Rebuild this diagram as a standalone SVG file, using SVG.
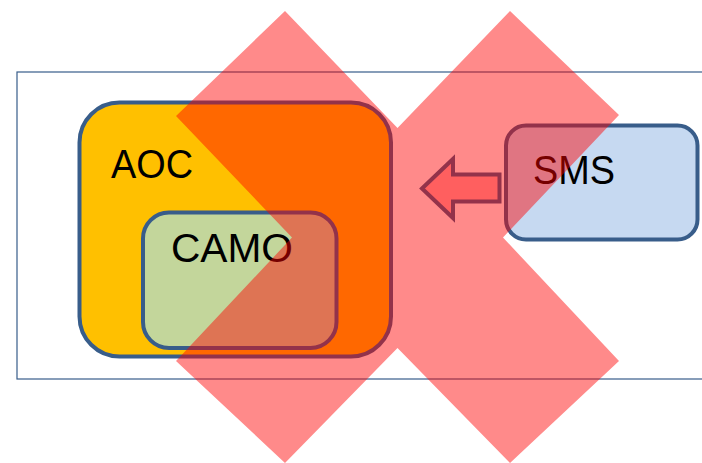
<svg xmlns="http://www.w3.org/2000/svg" width="702" height="463" viewBox="0 0 702 463">
<style>
.box{stroke:#385D8A;stroke-width:4}
.lbl{font-family:"Liberation Sans",Arial,sans-serif;font-size:41px;fill:#000}
</style>
<rect width="702" height="463" fill="#fff"/>
<g id="frame"><rect x="17" y="72" width="700" height="307" fill="none" stroke="#385D8A" stroke-width="1.2"/></g>
<g id="aoc">
<rect class="box" x="79.5" y="102.5" width="311.5" height="254" rx="40" fill="#FFC000"/>
<text class="lbl" x="111" y="178" textLength="82" lengthAdjust="spacingAndGlyphs">AOC</text>
</g>
<g id="camo">
<rect class="box" x="143" y="212.5" width="193.5" height="135.5" rx="26" fill="#C3D69B"/>
<text class="lbl" x="171" y="261.5" textLength="122" lengthAdjust="spacingAndGlyphs">CAMO</text>
</g>
<g id="sms">
<rect class="box" x="506" y="125.5" width="191.5" height="114" rx="20" fill="#C6D9F1"/>
<text class="lbl" x="533" y="184" textLength="82" lengthAdjust="spacingAndGlyphs">SMS</text>
</g>
<g id="connectors">
<polygon points="422,188.5 453,159 453,174.5 499.5,174.5 499.5,201.5 453,201.5 453,218" fill="#FFAFAF" stroke="#385D8A" stroke-width="4" stroke-linejoin="miter"/>
</g>
<g id="cross">
<polygon points="285,11 397.5,128 510,11 619,115 503,237.5 619,361 510,463 397.5,348 285,463 176,361 292,237.5 176,116" fill="#FF0000" fill-opacity="0.46"/>
</g>
</svg>
